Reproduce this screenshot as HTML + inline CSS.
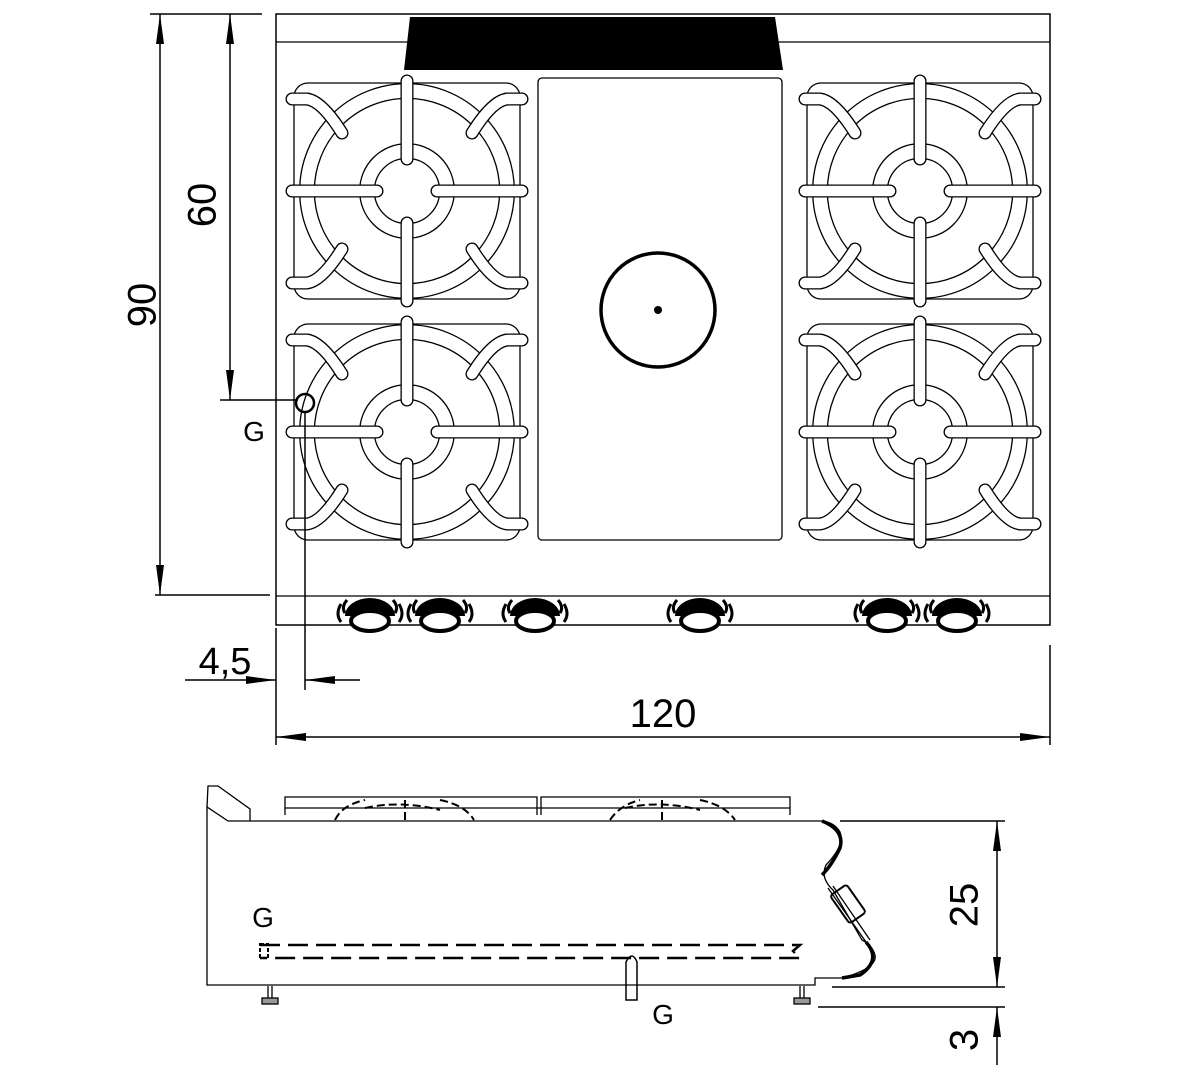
<!DOCTYPE html>
<html><head><meta charset="utf-8"><style>
html,body{margin:0;padding:0;background:#fff;width:1200px;height:1080px;overflow:hidden}
svg{display:block}
text{font-family:"Liberation Sans",sans-serif;fill:#000}
</style></head><body>
<svg width="1200" height="1080" viewBox="0 0 1200 1080" xmlns="http://www.w3.org/2000/svg">
<defs>
<marker id="arl" viewBox="0 0 30 10" refX="30" refY="5" markerWidth="30" markerHeight="10" orient="auto-start-reverse" markerUnits="userSpaceOnUse"><path d="M0,1 L30,5 L0,9 z" fill="#000"/></marker>
<g id="burner" fill="none">
  <rect x="-113" y="-108" width="226" height="216" rx="14" stroke="#000" stroke-width="1.3"/>
  <g stroke="#000" stroke-width="16"><circle r="100"/><circle r="40"/></g>
  <g stroke="#fff" stroke-width="13.4"><circle r="100"/><circle r="40"/></g>
  <g stroke="#000" stroke-width="13" stroke-linecap="round">
    <path d="M0,-110 V-32 M0,110 V32 M-115,0 H-30 M115,0 H30"/>
    <path d="M-115,-92 H-100 Q-85,-90 -65,-58 M115,-92 H100 Q85,-90 65,-58 M-115,92 H-100 Q-85,90 -65,58 M115,92 H100 Q85,90 65,58"/>
  </g>
  <g stroke="#fff" stroke-width="10.4" stroke-linecap="round">
    <path d="M0,-110 V-32 M0,110 V32 M-115,0 H-30 M115,0 H30"/>
    <path d="M-115,-92 H-100 Q-85,-90 -65,-58 M115,-92 H100 Q85,-90 65,-58 M-115,92 H-100 Q-85,90 -65,58 M115,92 H100 Q85,90 65,58"/>
  </g>
</g>
<g id="knob">
  <path d="M-25,4 A25,18 0 0 1 25,4 Z" fill="#000"/>
  <ellipse cx="0" cy="9" rx="19" ry="10" fill="#fff" stroke="#000" stroke-width="4"/>
  <path d="M-29,-8 Q-35,2 -29,10 M29,-8 Q35,2 29,10 M-23,-12 Q-29,-5 -25,1 M23,-12 Q29,-5 25,1" stroke="#000" stroke-width="3" fill="none"/>
</g>
</defs>

<!-- top view -->
<rect x="276" y="14" width="774" height="611" fill="none" stroke="#000" stroke-width="1.5"/>
<line x1="276" y1="42" x2="1050" y2="42" stroke="#000" stroke-width="1.3"/>
<line x1="276" y1="596" x2="1050" y2="596" stroke="#000" stroke-width="1.3"/>
<polygon points="410,17 775,17 783,70 404,70" fill="#000"/>
<use href="#burner" x="407" y="191"/>
<use href="#burner" x="407" y="432"/>
<use href="#burner" x="920" y="191"/>
<use href="#burner" x="920" y="432"/>
<rect x="538" y="78" width="244" height="462" rx="4" fill="none" stroke="#000" stroke-width="1.3"/>
<circle cx="658" cy="310" r="57" fill="none" stroke="#000" stroke-width="3.5"/>
<circle cx="658" cy="310" r="4" fill="#000"/>
<use href="#knob" x="370" y="612"/>
<use href="#knob" x="440" y="612"/>
<use href="#knob" x="535" y="612"/>
<use href="#knob" x="700" y="612"/>
<use href="#knob" x="887" y="612"/>
<use href="#knob" x="957" y="612"/>

<!-- dimensions top -->
<g stroke="#000" stroke-width="1.5" fill="none">
<line x1="150" y1="14" x2="262" y2="14"/>
<line x1="155" y1="595" x2="270" y2="595"/>
<line x1="220" y1="400" x2="298" y2="400"/>
<line x1="160" y1="14" x2="160" y2="595" marker-start="url(#arl)" marker-end="url(#arl)"/>
<line x1="230" y1="14" x2="230" y2="400" marker-start="url(#arl)" marker-end="url(#arl)"/>
<circle cx="305" cy="403" r="9" stroke-width="2.5"/>
<line x1="305" y1="412" x2="305" y2="690"/>
<line x1="276" y1="628" x2="276" y2="745"/>
<line x1="1050" y1="645" x2="1050" y2="745"/>
<line x1="185" y1="680" x2="276" y2="680" marker-end="url(#arl)"/>
<line x1="360" y1="680" x2="305" y2="680" marker-end="url(#arl)"/>
<line x1="276" y1="737" x2="1050" y2="737" marker-start="url(#arl)" marker-end="url(#arl)"/>
</g>
<text x="145" y="305" font-size="40" text-anchor="middle" transform="rotate(-90 145 305)" dominant-baseline="middle">90</text>
<text x="205" y="205" font-size="40" text-anchor="middle" transform="rotate(-90 205 205)" dominant-baseline="middle">60</text>
<text x="254" y="441" font-size="28" text-anchor="middle">G</text>
<text x="225" y="674" font-size="38" text-anchor="middle">4,5</text>
<text x="663" y="727" font-size="40" text-anchor="middle">120</text>

<!-- side view -->
<g stroke="#000" fill="none" stroke-width="1.3">
<path d="M207,807 L207,985 L815,985 L815,978 L842,978 Q878,968 875,955 Q872,945 862,940 L833,890 Q820,878 826,865 Q845,845 840,832 Q834,822 822,821 L228,821 L207,807 Z"/>
<path d="M207,807 L208,786 L218,786 L250,809 L250,821"/>
<path d="M822,821 Q845,830 840,848 Q832,865 822,875 M866,942 Q882,960 860,975 L842,978" stroke-width="3.5"/>
<path d="M828,888 L866,942 M833,886 L870,940"/>
<rect x="838" y="887" width="20" height="34" rx="3" transform="rotate(-35 848 904)" stroke-width="2"/>
<path d="M285,815 L285,797 L537,797 L537,815 M541,815 L541,797 L790,797 L790,815 M285,808 L790,808"/>
<path d="M335,820 Q342,805 365,800 M365,808 Q400,800 440,810 M405,820 V800 M440,800 Q465,805 474,820 M610,820 Q620,805 640,800 M625,808 Q660,800 700,810 M662,820 V800 M700,800 Q725,805 735,820" stroke-width="2" stroke-dasharray="8,4"/>
<path d="M260,945 H800 L793,951 L800,958 H260" stroke-width="2.5" stroke-dasharray="20,8"/>
<rect x="260" y="944" width="8" height="14" stroke-width="2" stroke-dasharray="4,2"/>
<path d="M626,1000 V962 Q632,950 637,962 V1000 Z" stroke-width="1.5"/>
<path d="M268,986 V998 M272,986 V998 M800,986 V998 M804,986 V998"/>
<rect x="262" y="998" width="16" height="6" fill="#999"/>
<rect x="794" y="998" width="16" height="6" fill="#999"/>
<line x1="840" y1="821" x2="1005" y2="821" stroke-width="1.5"/>
<line x1="832" y1="987" x2="1005" y2="987" stroke-width="1.5"/>
<line x1="818" y1="1007" x2="1005" y2="1007" stroke-width="1.5"/>
<line x1="997" y1="821" x2="997" y2="987" stroke-width="1.5" marker-start="url(#arl)" marker-end="url(#arl)"/>
<line x1="997" y1="1065" x2="997" y2="1007" stroke-width="1.5" marker-end="url(#arl)"/>
</g>
<text x="263" y="927" font-size="28" text-anchor="middle">G</text>
<text x="663" y="1024" font-size="28" text-anchor="middle">G</text>
<text x="967" y="905" font-size="40" text-anchor="middle" transform="rotate(-90 967 905)" dominant-baseline="middle">25</text>
<text x="967" y="1040" font-size="40" text-anchor="middle" transform="rotate(-90 967 1040)" dominant-baseline="middle">3</text>
</svg>
</body></html>
